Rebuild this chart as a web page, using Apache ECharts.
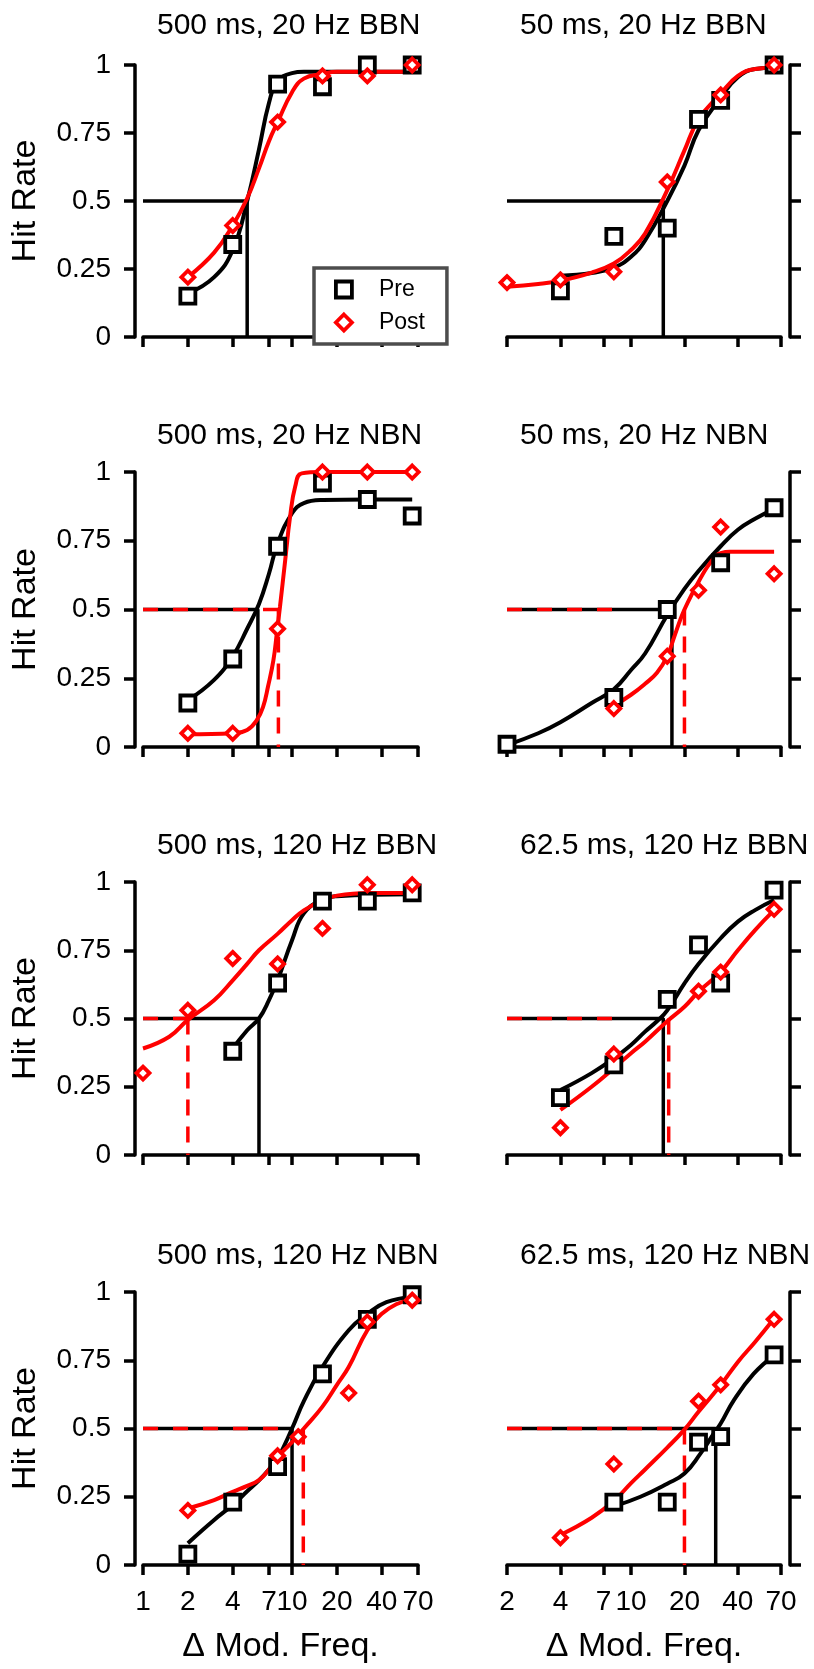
<!DOCTYPE html>
<html>
<head>
<meta charset="utf-8">
<script src="https://cdn.jsdelivr.net/npm/echarts@6/dist/echarts.min.js"></script>
<style>
  html, body { margin: 0; padding: 0; background: #fff; }
  #chart { width: 814px; height: 1669px; }
</style>
</head>
<body>
<div id="chart"></div>
<script>
// ---- data -------------------------------------------------------------
const panelTitles = [
  '500 ms, 20 Hz BBN', '50 ms, 20 Hz BBN',
  '500 ms, 20 Hz NBN', '50 ms, 20 Hz NBN',
  '500 ms, 120 Hz BBN', '62.5 ms, 120 Hz BBN',
  '500 ms, 120 Hz NBN', '62.5 ms, 120 Hz NBN'
];
const leftFreqTicks = [1, 2, 4, 7, 10, 20, 40, 70];
const rightFreqTicks = [2, 4, 7, 10, 20, 40, 70];

// measured hit rates, before training (squares)
const preX = [
  [2, 4, 8, 16, 32, 64], [4, 8, 16, 24, 32, 64],
  [2, 4, 8, 16, 32, 64], [2, 8, 16, 32, 64],
  [4, 8, 16, 32, 64], [4, 8, 16, 24, 32, 64],
  [2, 4, 8, 16, 32, 64], [8, 16, 24, 32, 64]
];
const preHit = [
  [0.15, 0.34, 0.93, 0.92, 1.0, 1.0], [0.17, 0.37, 0.40, 0.80, 0.87, 1.0],
  [0.16, 0.32, 0.73, 0.96, 0.90, 0.84], [0.01, 0.18, 0.50, 0.67, 0.87],
  [0.38, 0.63, 0.93, 0.93, 0.96], [0.21, 0.33, 0.57, 0.77, 0.63, 0.97],
  [0.04, 0.23, 0.36, 0.70, 0.90, 0.99], [0.23, 0.23, 0.45, 0.47, 0.77]
];
// measured hit rates, after training (diamonds)
const postX = [
  [2, 4, 8, 16, 32, 64], [2, 4, 8, 16, 32, 64],
  [2, 4, 8, 16, 32, 64], [8, 16, 24, 32, 64],
  [1, 2, 4, 8, 16, 32, 64], [4, 8, 24, 32, 64],
  [2, 8, 11, 24, 32, 64], [4, 8, 24, 32, 64]
];
const postHit = [
  [0.22, 0.41, 0.79, 0.96, 0.96, 1.0], [0.20, 0.21, 0.24, 0.57, 0.89, 1.0],
  [0.05, 0.05, 0.43, 1.0, 1.0, 1.0], [0.14, 0.33, 0.57, 0.80, 0.63],
  [0.30, 0.53, 0.72, 0.70, 0.83, 0.99, 0.99], [0.10, 0.37, 0.60, 0.67, 0.90],
  [0.20, 0.40, 0.47, 0.63, 0.89, 0.97], [0.10, 0.37, 0.60, 0.66, 0.90]
];

// fitted psychometric functions, sampled along the frequency axis
const preFitX = [
  [2, 3, 4, 5, 6, 7, 8, 10, 12, 16, 32, 64],
  [4, 6, 8, 10, 12, 16, 20, 24, 32, 40, 50, 64],
  [2, 3, 4, 5, 6, 7, 8, 10, 12, 16, 32, 64],
  [2, 3, 4, 6, 8, 10, 12, 16, 20, 24, 32, 40, 50, 64],
  [4, 5, 6, 7, 8, 10, 12, 16, 20, 64],
  [4, 6, 8, 10, 12, 14, 16, 20, 24, 32, 40, 50, 64],
  [2, 3, 4, 5, 6, 7, 8, 10, 12, 16, 24, 32, 43, 64],
  [8, 11.3, 16, 20, 24.6, 29.3, 32, 38, 49, 64]
];
const preFitHit = [
  [0.16, 0.22, 0.32, 0.50, 0.69, 0.86, 0.94, 0.97, 0.975, 0.975, 0.975, 0.975],
  [0.225, 0.235, 0.255, 0.295, 0.355, 0.50, 0.63, 0.76, 0.88, 0.955, 0.985, 0.99],
  [0.17, 0.244, 0.33, 0.43, 0.52, 0.63, 0.74, 0.85, 0.887, 0.898, 0.90, 0.90],
  [0.007, 0.05, 0.09, 0.16, 0.21, 0.28, 0.34, 0.48, 0.575, 0.64, 0.73, 0.79, 0.83, 0.865],
  [0.39, 0.457, 0.50, 0.567, 0.64, 0.787, 0.885, 0.936, 0.948, 0.955],
  [0.238, 0.30, 0.354, 0.403, 0.452, 0.49, 0.53, 0.629, 0.70, 0.794, 0.855, 0.897, 0.934],
  [0.08, 0.165, 0.22, 0.27, 0.31, 0.35, 0.39, 0.50, 0.60, 0.726, 0.86, 0.92, 0.963, 0.982],
  [0.215, 0.25, 0.298, 0.335, 0.408, 0.482, 0.518, 0.604, 0.70, 0.768]
];
const postFitX = [
  [2, 3, 4, 5, 6, 7, 8, 10, 12, 16, 20, 64],
  [2, 3, 4, 6, 8, 10, 12, 16, 20, 24, 32, 40, 50, 64],
  [2, 4, 5, 5.8, 6.4, 6.9, 7.5, 7.9, 8.3, 9, 9.7, 10.5, 11.6, 16, 64],
  [8, 10, 12, 14, 16, 17.5, 19, 20, 22, 24, 26, 28, 30, 32, 36, 64],
  [1, 1.5, 2, 3, 4, 5, 6, 8, 10, 12, 16, 20, 32, 64],
  [4, 6, 8, 10, 12, 16, 20, 24, 32, 40, 50, 64],
  [2, 3, 4, 5, 6, 7, 8, 10, 12, 16, 20, 24, 32, 40, 50, 64],
  [4, 6, 8, 10, 12, 16, 20, 24, 32, 40, 50, 64]
];
const postFitHit = [
  [0.22, 0.31, 0.41, 0.51, 0.62, 0.72, 0.79, 0.90, 0.95, 0.967, 0.975, 0.975],
  [0.185, 0.195, 0.207, 0.237, 0.27, 0.32, 0.38, 0.54, 0.686, 0.80, 0.895, 0.96, 0.985, 0.99],
  [0.046, 0.05, 0.062, 0.098, 0.147, 0.22, 0.316, 0.413, 0.51, 0.68, 0.837, 0.947, 0.995, 1.0, 1.0],
  [0.15, 0.19, 0.23, 0.27, 0.33, 0.40, 0.465, 0.50, 0.555, 0.60, 0.64, 0.67, 0.695, 0.705, 0.71, 0.71],
  [0.39, 0.433, 0.495, 0.567, 0.64, 0.70, 0.75, 0.81, 0.86, 0.896, 0.933, 0.95, 0.96, 0.96],
  [0.165, 0.25, 0.318, 0.373, 0.415, 0.49, 0.543, 0.598, 0.671, 0.75, 0.824, 0.897],
  [0.207, 0.238, 0.268, 0.29, 0.311, 0.35, 0.396, 0.45, 0.50, 0.58, 0.66, 0.725, 0.86, 0.92, 0.955, 0.975],
  [0.11, 0.173, 0.235, 0.30, 0.35, 0.43, 0.496, 0.561, 0.659, 0.744, 0.817, 0.903]
];

// 50% thresholds of the fits (null: no separate post-training guide drawn)
const preThreshold = [5.0, 15.2, 5.9, 17.0, 6.0, 15.2, 10.0, 30.0];
const postThreshold = [null, null, 8.1, 20.0, 2.0, 16.3, 11.9, 20.0];
const postGuideEnd = [null, null, 8.1, 8.0, 2.0, 8.0, 8.7, 20.0];

// ---- layout -----------------------------------------------------------
const FONT = '"Liberation Sans", Arial, Helvetica, sans-serif';
const colLeft = [143, 507];
const colWidth = [275, 274];
const rowTop = [65, 472, 882, 1292];
const rowHeight = [272, 275, 273, 273];
const titleTop = [6, 416, 826, 1236];
const titleLeft = [152, 515];

const zip = (xs, ys) => xs.map((x, i) => [x, ys[i]]);

const grids = [], xAxes = [], yAxes = [], series = [], titles = [];

panelTitles.forEach((name, p) => {
  const col = p % 2, row = Math.floor(p / 2);
  const isLeft = col === 0, isBottom = row === 3;
  const ticks = isLeft ? leftFreqTicks : rightFreqTicks;
  const xMin = ticks[0], xMax = ticks[ticks.length - 1];

  grids.push({
    left: colLeft[col], top: rowTop[row], width: colWidth[col], height: rowHeight[row],
    containLabel: false, outerBoundsMode: 'none'
  });

  titles.push({
    text: name, left: titleLeft[col], top: titleTop[row],
    textStyle: { fontFamily: FONT, fontSize: 30, fontWeight: 'normal', color: '#000' }
  });

  xAxes.push({
    gridIndex: p, type: 'log', logBase: 10, min: xMin, max: xMax,
    offset: 9,
    name: isBottom ? 'Δ Mod. Freq.' : '',
    nameLocation: 'middle', nameGap: 56,
    nameTextStyle: { fontFamily: FONT, fontSize: 34, color: '#000' },
    axisLine: { show: true, lineStyle: { color: '#000', width: 3.5 } },
    axisTick: { show: true, length: 10, customValues: ticks, lineStyle: { color: '#000', width: 3.5 } },
    axisLabel: {
      show: isBottom, customValues: ticks, margin: 14,
      fontFamily: FONT, fontSize: 28, color: '#000',
      formatter: v => String(Math.round(v))
    },
    splitLine: { show: false }, minorTick: { show: false }
  });

  yAxes.push({
    gridIndex: p, type: 'value', min: 0, max: 1, interval: 0.25,
    position: isLeft ? 'left' : 'right', offset: isLeft ? 8 : 9,
    name: isLeft ? 'Hit Rate' : '',
    nameLocation: 'middle', nameGap: 92, nameRotate: 90,
    nameTextStyle: { fontFamily: FONT, fontSize: 34, color: '#000' },
    axisLine: { show: true, lineStyle: { color: '#000', width: 3.5 } },
    axisTick: { show: true, length: 11, lineStyle: { color: '#000', width: 3.5 } },
    axisLabel: {
      show: isLeft, margin: 24, fontFamily: FONT, fontSize: 28, color: '#000',
      formatter: v => String(v)
    },
    splitLine: { show: false }
  });

  const common = { xAxisIndex: p, yAxisIndex: p, silent: true, animation: false, clip: false };

  // threshold guides: pre (solid black), post (dashed red on top)
  series.push(Object.assign({
    type: 'line', symbol: 'none', z: 2,
    data: [[xMin, 0.5], [preThreshold[p], 0.5], [preThreshold[p], 0]],
    lineStyle: { color: '#000', width: 3.5 }
  }, common));
  if (postThreshold[p] !== null) {
    series.push(Object.assign({
      type: 'line', symbol: 'none', z: 3,
      data: [[xMin, 0.5], [postGuideEnd[p], 0.5]],
      lineStyle: { color: '#ff0000', width: 3.5, type: [15, 15], cap: 'butt' }
    }, common));
    series.push(Object.assign({
      type: 'line', symbol: 'none', z: 3,
      data: [[postThreshold[p], 0.5], [postThreshold[p], 0]],
      lineStyle: { color: '#ff0000', width: 3.5, type: [16, 11], cap: 'butt' }
    }, common));
  }

  // fitted curves
  series.push(Object.assign({
    type: 'line', symbol: 'none', z: 4, smooth: 0.45,
    data: zip(preFitX[p], preFitHit[p]),
    lineStyle: { color: '#000', width: 4 }
  }, common));
  series.push(Object.assign({
    type: 'line', symbol: 'none', z: 5, smooth: 0.45,
    data: zip(postFitX[p], postFitHit[p]),
    lineStyle: { color: '#ff0000', width: 4 }
  }, common));

  // measured points
  series.push(Object.assign({
    name: 'Pre', type: 'scatter', symbol: 'rect', symbolSize: 15, z: 6,
    data: zip(preX[p], preHit[p]),
    itemStyle: { color: '#fff', borderColor: '#000', borderWidth: 3.8, opacity: 1 }
  }, common));
  series.push(Object.assign({
    name: 'Post', type: 'scatter', symbol: 'diamond', symbolSize: 13, z: 7,
    data: zip(postX[p], postHit[p]),
    itemStyle: { color: '#fff', borderColor: '#ff0000', borderWidth: 3.8, opacity: 1 }
  }, common));
});

const chart = echarts.init(document.getElementById('chart'), null, { renderer: 'canvas' });
chart.setOption({
  animation: false,
  backgroundColor: '#fff',
  title: titles,
  legend: {
    show: true, orient: 'vertical', left: 314, top: 268,
    selectedMode: false,
    data: [
      { name: 'Pre', icon: 'rect', itemStyle: { color: '#fff', borderColor: '#000', borderWidth: 3.8, opacity: 1 } },
      { name: 'Post', icon: 'diamond', itemStyle: { color: '#fff', borderColor: '#ff0000', borderWidth: 3.8, opacity: 1 } }
    ],
    itemWidth: 16, itemHeight: 16, itemGap: 10,
    padding: [10, 22, 10, 20],
    backgroundColor: '#fff', borderColor: '#4d4d4d', borderWidth: 3.5,
    textStyle: { fontFamily: FONT, fontSize: 23, color: '#000', padding: [0, 0, 0, 22] }
  },
  grid: grids,
  xAxis: xAxes,
  yAxis: yAxes,
  series: series
});
</script>
</body>
</html>
